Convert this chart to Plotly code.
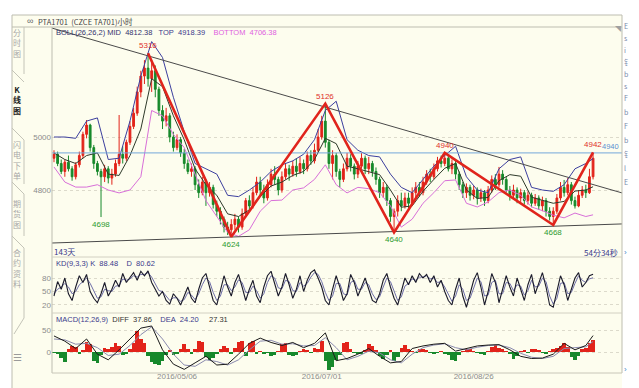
import plotly.graph_objects as go

W, H = 639, 388
def PX(p): return p / W
def PY(p): return 1 - p / H

# ---------------- data ----------------
idx = list(range(150))
opens = [4920,4935,4900,4870,4905,4880,4850,4895,4930,5010,
         5045,4960,4900,4870,4850,4880,4845,4860,4900,4935,
         4920,4980,5040,5090,5170,5230,5260,5220,5250,5180,
         5100,5060,5080,5000,4960,4990,4940,4900,4870,4880,
         4820,4790,4830,4790,4810,4745,4720,4690,4660,4650,
         4670,4690,4660,4710,4760,4740,4790,4830,4800,4770,
         4820,4860,4840,4800,4850,4880,4860,4890,4870,4900,
         4880,4930,4910,4950,5000,5060,4980,4900,4930,4870,
         4840,4880,4920,4890,4860,4890,4920,4880,4900,4870,
         4840,4790,4810,4760,4700,4720,4760,4740,4770,4750,
         4790,4810,4790,4830,4860,4850,4880,4910,4900,4920,
         4880,4900,4860,4820,4790,4810,4780,4800,4770,4790,
         4760,4800,4840,4820,4860,4840,4800,4780,4800,4770,
         4790,4760,4780,4750,4770,4740,4760,4720,4700,4720,
         4770,4810,4790,4820,4760,4740,4780,4800,4790,4850]
highs = [4950,4945,4915,4915,4930,4890,4905,4945,5020,5064,
         5050,4970,4910,4880,4895,4890,4880,4915,5083,4965,
         4990,5060,5110,5190,5250,5290,5316,5290,5270,5190,
         5120,5110,5090,5020,5010,5000,4955,4915,4900,4890,
         4840,4850,4840,4830,4820,4760,4735,4700,4680,4690,
         4710,4700,4730,4770,4780,4810,4850,4850,4820,4840,
         4880,4890,4850,4870,4900,4895,4910,4920,4925,4915,
         4945,4950,4975,5030,5080,5126,4990,4950,4940,4880,
         4900,4940,4935,4900,4910,4940,4930,4925,4910,4885,
         4850,4830,4820,4770,4730,4780,4790,4790,4790,4810,
         4830,4830,4850,4875,4880,4900,4925,4930,4940,4930,
         4915,4910,4870,4830,4825,4820,4815,4810,4805,4800,
         4815,4855,4860,4887,4875,4850,4815,4820,4810,4805,
         4800,4795,4790,4785,4780,4775,4770,4735,4735,4785,
         4830,4838,4845,4830,4775,4800,4815,4820,4880,4942]
lows = [4905,4890,4860,4850,4870,4835,4840,4885,4920,4995,
        4945,4880,4855,4698,4830,4825,4820,4850,4890,4900,
        4910,4970,5030,5080,5150,5200,5190,5170,5150,5080,
        5030,5040,4980,4945,4950,4925,4880,4860,4850,4800,
        4770,4780,4740,4775,4730,4700,4670,4640,4630,4624,
        4650,4640,4650,4700,4720,4730,4780,4780,4750,4760,
        4810,4820,4780,4790,4840,4835,4850,4850,4860,4860,
        4870,4895,4900,4940,4990,4960,4880,4840,4850,4810,
        4830,4870,4870,4840,4845,4880,4860,4860,4850,4820,
        4770,4770,4740,4680,4640,4700,4720,4730,4730,4740,
        4770,4775,4780,4820,4830,4840,4870,4885,4890,4870,
        4860,4840,4800,4770,4770,4760,4765,4745,4755,4740,
        4750,4790,4800,4810,4820,4790,4760,4765,4750,4755,
        4745,4745,4735,4740,4725,4720,4700,4685,4668,4710,
        4760,4775,4780,4745,4730,4735,4770,4770,4785,4840]
closes = [4935,4900,4870,4905,4880,4850,4895,4930,5010,5045,
          4960,4900,4870,4850,4880,4845,4860,4900,4935,4920,
          4980,5040,5090,5170,5230,5260,5220,5250,5180,5100,
          5060,5080,5000,4960,4990,4940,4900,4870,4880,4820,
          4790,4830,4790,4810,4745,4720,4690,4660,4650,4670,
          4690,4660,4710,4760,4740,4790,4830,4800,4770,4820,
          4860,4840,4800,4850,4880,4860,4890,4870,4900,4880,
          4930,4910,4950,5000,5060,4980,4900,4930,4870,4840,
          4880,4920,4890,4860,4890,4920,4880,4900,4870,4840,
          4790,4810,4760,4700,4720,4760,4740,4770,4750,4790,
          4810,4790,4830,4860,4850,4880,4910,4900,4920,4880,
          4900,4860,4820,4790,4810,4780,4800,4770,4790,4760,
          4800,4840,4820,4860,4840,4800,4780,4800,4770,4790,
          4760,4780,4750,4770,4740,4760,4720,4700,4720,4770,
          4810,4790,4820,4760,4740,4780,4800,4790,4850,4920]

band_idx = [0,3,6,9,12,15,18,21,24,27,30,33,36,39,42,45,48,51,54,57,60,63,66,69,72,
            75,78,81,84,87,90,93,96,99,102,105,108,111,114,117,120,123,126,129,132,
            135,138,141,144,147,149]
boll_top = [5000,5000,4995,5060,5072,4915,4920,5060,5230,5360,5300,5150,5020,4900,4880,
            4860,4780,4775,4800,4830,4870,4895,4910,4935,4990,5100,5135,4990,4950,4930,
            4925,4860,4810,4790,4840,4890,4930,4965,4850,4800,4790,4880,4915,4925,4810,
            4800,4795,4820,4880,4900,4918.39]
boll_mid = [4940,4915,4900,4930,4940,4860,4855,4930,5030,5220,5190,5080,4990,4880,4820,
            4780,4710,4700,4725,4775,4815,4830,4855,4870,4915,4995,4975,4890,4880,4868,
            4858,4800,4735,4740,4795,4840,4882,4900,4800,4768,4772,4835,4858,4852,4773,
            4761,4750,4757,4796,4800,4812.38]
boll_bot = [4887,4830,4811,4811,4820,4800,4789,4800,4850,5100,5080,5010,4960,4860,4760,
            4700,4640,4625,4650,4720,4760,4762,4800,4808,4840,4895,4820,4789,4810,4805,
            4790,4740,4660,4690,4750,4790,4835,4838,4750,4736,4755,4790,4800,4780,4736,
            4722,4705,4695,4713,4700,4706.38]

zz_idx = [26, 49, 75, 94, 108, 138, 149]
zz_val = [5316, 4624, 5126, 4640, 4940, 4668, 4942]

peak_idx = [26, 75, 108, 149]
peak_val = [5316, 5126, 4940, 4942]
trough_idx = [13, 49, 94, 138]
trough_val = [4698, 4624, 4640, 4668]

trend_x = [-0.55, 157.0]
trend_upper = [5411, 4789]
trend_lower = [4600, 4672]
level_line = 4940

kd_k = [40,72,55,80,45,30,60,85,70,88,
        50,35,25,45,70,40,55,75,60,90,
        70,80,92,75,95,85,96,70,55,40,
        50,30,22,45,35,20,40,60,35,25,
        55,80,90,60,30,20,50,85,60,40,
        70,88,60,30,55,75,40,25,60,85,
        95,70,40,60,90,65,35,55,85,50,
        75,92,98,80,60,30,20,55,85,60,
        30,45,88,70,40,60,80,55,30,25,
        45,75,90,60,35,20,50,80,65,85,
        70,90,80,88,70,85,60,75,50,30,
        20,55,80,40,15,45,75,92,60,20,
        50,90,70,25,55,85,60,40,80,55,
        30,65,88,45,70,92,60,20,15,50,
        85,65,30,55,80,92,60,70,85,88.48]
kd_d = [45,55,60,68,60,45,50,65,72,80,
        68,50,35,38,55,52,50,62,63,78,
        75,78,85,82,88,88,92,82,68,52,
        50,40,30,36,36,28,32,48,42,32,
        45,65,80,72,48,30,40,65,65,52,
        60,76,70,48,48,62,52,35,45,70,
        85,80,58,56,75,72,52,50,70,62,
        68,82,92,88,72,48,30,40,68,68,
        45,42,70,75,55,55,70,65,45,32,
        38,60,80,72,50,30,38,62,68,78,
        75,82,82,85,78,80,70,72,60,42,
        28,40,65,55,30,35,58,80,72,40,
        42,70,75,45,45,70,68,52,65,62,
        42,52,75,60,62,80,72,40,22,35,
        68,70,45,48,68,85,75,70,78,80.62]

macd_diff = [37,25,8,30,-5,-18,5,30,55,60,5,-28,-40,-25,-10,-30,-28,-5,20,32,22,15,22,10,20,
             44,-20,-15,-5,8,-10,-25,-22,8,14,18,20,2,8,14,16,17,5,-10,-15,-14,-5,20,5,15,37.86]
macd_dea = [30,28,18,20,10,-8,-5,15,40,58,30,-5,-30,-33,-18,-22,-30,-18,5,25,27,18,19,14,15,
            33,10,-18,-10,2,-2,-18,-25,-5,10,16,19,10,5,11,15,16,10,-3,-12,-15,-10,8,10,12,24.2]
macd_hist = [-2,-4,-14,-22,6,14,12,-4,4,22,
             18,-20,-25,-8,10,6,12,20,14,-8,
             -4,8,20,48,30,20,-10,-22,-28,-30,
             -20,-8,4,-6,-3,8,18,6,-3,6,
             26,22,-12,-18,-14,-4,8,14,10,-4,
             10,24,26,-10,20,25,-3,2,-4,-2,
             -10,-8,2,18,20,-6,-10,-8,2,6,
             3,-2,10,6,25,-20,-42,-35,-18,-6,
             20,22,8,-2,-5,-3,4,18,14,3,
             -10,-15,-8,5,-20,-12,10,15,8,2,
             -2,6,8,4,-2,-5,-2,2,-3,-6,
             -18,-20,-8,2,8,6,2,-2,-3,-6,
             2,12,16,10,6,2,-4,-15,-10,2,
             5,-2,6,8,4,-2,-3,2,8,10,
             14,20,12,-12,-18,-10,8,10,20,27.31]

date_idx = [34, 74, 116]
date_labels = ["2016/05/06", "2016/07/01", "2016/08/26"]

# ---------------- styles ----------------
CREAM = "#FDFDEE"
FRAME = "#BDBDB0"
NAVY = "#3A3A8C"
RED = "#E2231A"
GREEN = "#17892B"
FONT = "Liberation Sans, Arial, Noto Sans CJK SC, sans-serif"
CJK = "Noto Sans CJK SC, sans-serif"

fig = go.Figure()

fig.add_trace(go.Candlestick(
    x=idx, open=opens, high=highs, low=lows, close=closes,
    increasing=dict(line=dict(color=RED, width=1), fillcolor=RED),
    decreasing=dict(line=dict(color=GREEN, width=1), fillcolor=GREEN),
    whiskerwidth=0, xaxis="x", yaxis="y", showlegend=False))

fig.add_trace(go.Scatter(x=band_idx, y=boll_top, mode="lines",
                         line=dict(color="#3C3F9E", width=1), xaxis="x", yaxis="y", showlegend=False))
fig.add_trace(go.Scatter(x=band_idx, y=boll_mid, mode="lines",
                         line=dict(color="#2E3A2A", width=1), xaxis="x", yaxis="y", showlegend=False))
fig.add_trace(go.Scatter(x=band_idx, y=boll_bot, mode="lines",
                         line=dict(color="#D86FD8", width=1), xaxis="x", yaxis="y", showlegend=False))

fig.add_trace(go.Scatter(x=trend_x, y=[level_line, level_line], mode="lines",
                         line=dict(color="#74A7DA", width=1), xaxis="x", yaxis="y", showlegend=False))
fig.add_trace(go.Scatter(x=trend_x, y=trend_upper, mode="lines",
                         line=dict(color="#4A4A4A", width=1), xaxis="x", yaxis="y", showlegend=False))
fig.add_trace(go.Scatter(x=trend_x, y=trend_lower, mode="lines",
                         line=dict(color="#4A4A4A", width=1), xaxis="x", yaxis="y", showlegend=False))
fig.add_trace(go.Scatter(x=zz_idx, y=zz_val, mode="lines",
                         line=dict(color="#E0241C", width=2.6), xaxis="x", yaxis="y", showlegend=False))

# KD
fig.add_trace(go.Scatter(x=idx, y=kd_d, mode="lines",
                         line=dict(color="#6E6EA8", width=1), xaxis="x2", yaxis="y2", showlegend=False))
fig.add_trace(go.Scatter(x=idx, y=kd_k, mode="lines",
                         line=dict(color="#1A1A2A", width=1.1), xaxis="x2", yaxis="y2", showlegend=False))

# MACD
fig.add_trace(go.Bar(x=idx, y=macd_hist, width=1,
                     marker=dict(color=[RED if v >= 0 else GREEN for v in macd_hist], line=dict(width=0)),
                     xaxis="x3", yaxis="y3", showlegend=False))
fig.add_trace(go.Scatter(x=band_idx, y=macd_dea, mode="lines",
                         line=dict(color="#8A8AAE", width=1), xaxis="x3", yaxis="y3", showlegend=False))
fig.add_trace(go.Scatter(x=band_idx, y=macd_diff, mode="lines",
                         line=dict(color="#1A1A1A", width=1), xaxis="x3", yaxis="y3", showlegend=False))

xdom = [PX(52), PX(622)]
xr = [-0.55, 157.0]
axis_common = dict(domain=xdom, range=xr, showgrid=False, zeroline=False, showline=False,
                   fixedrange=True)
ytick = dict(size=8, color="#8C8C8C", family=FONT)
grid = dict(showgrid=True, gridcolor="#DCDACB", griddash="dot", gridwidth=1, zeroline=False,
            showline=False, ticks="", tickfont=ytick, fixedrange=True)

fig.update_layout(
    width=W, height=H, margin=dict(l=0, r=0, t=0, b=0),
    paper_bgcolor="white", plot_bgcolor="rgba(0,0,0,0)",
    bargap=0, showlegend=False, font=dict(family=FONT),
    xaxis=dict(anchor="y", showticklabels=False, rangeslider=dict(visible=False), **axis_common),
    xaxis2=dict(anchor="y2", matches="x", showticklabels=False, **axis_common),
    xaxis3=dict(anchor="y3", matches="x", tickvals=date_idx, ticktext=date_labels, ticks="",
                ticklabelstandoff=-3,
                tickfont=dict(size=8, color="#8C8C8C", family=FONT), **axis_common),
    yaxis=dict(domain=[PY(257), PY(27)], range=[4547.2, 5415.1], tickvals=[4800, 5000], **grid),
    yaxis2=dict(domain=[PY(313), PY(257)], range=[2.2, 126.7], tickvals=[20, 50, 80], **grid),
    yaxis3=dict(domain=[PY(373), PY(313)], range=[-48.4, 89.9], tickvals=[0, 50], **grid),
)

shapes = []
shapes.append(dict(type="rect", xref="paper", yref="paper", x0=PX(12), x1=PX(622), y0=0, y1=PY(15),
                   fillcolor=CREAM, line=dict(width=0), layer="below"))
def hline(y, x0, x1, color=FRAME):
    shapes.append(dict(type="line", xref="paper", yref="paper", x0=PX(x0), x1=PX(x1), y0=PY(y), y1=PY(y),
                       line=dict(color=color, width=1), layer="above"))
def vline(x, y0, y1, color=FRAME):
    shapes.append(dict(type="line", xref="paper", yref="paper", x0=PX(x), x1=PX(x), y0=PY(y0), y1=PY(y1),
                       line=dict(color=color, width=1), layer="above"))
def seg(x0, y0, x1, y1, color="#C4C4B8"):
    shapes.append(dict(type="line", xref="paper", yref="paper", x0=PX(x0), x1=PX(x1), y0=PY(y0), y1=PY(y1),
                       line=dict(color=color, width=1), layer="above"))
hline(15, 12, 622)
hline(27, 12, 622)
vline(12, 15, 388)
vline(52, 27, 373)
vline(622, 15, 373)
hline(257, 52, 622, "#D2D0C2")
hline(313, 52, 622, "#D2D0C2")
hline(373, 52, 622, "#C8C6B8")
# sidebar tabs
vline(24, 27, 74, "#C4C4B8"); seg(12, 70, 24, 82)
seg(12, 128, 24, 140); vline(24, 140, 184, "#C4C4B8"); seg(12, 182, 24, 194)
vline(24, 194, 236, "#C4C4B8"); seg(12, 236, 24, 248)
vline(24, 248, 318, "#C4C4B8"); seg(24, 318, 14, 334)
fig.update_layout(shapes=shapes)

ann = []
def txt(x, y, s, color, size=7.5, xa="left", ya="middle", fam=FONT):
    ann.append(dict(xref="paper", yref="paper", x=PX(x), y=PY(y), text=s, showarrow=False,
                    xanchor=xa, yanchor=ya, font=dict(size=size, color=color, family=fam),
                    borderpad=0))

S = "&nbsp;"
def span(s, c):
    return "<span style='color:%s'>%s</span>" % (c, s)

txt(26, 21, "∞", "#666", size=9)
txt(37, 21, "PTA1701  (CZCE TA701)小时", "#444", size=7.5, fam=CJK)

txt(55, 32, span("BOLL(26,26,2)" + S + "MID" + S*2 + "4812.38", "#33336E") + S*3 +
    span("TOP" + S*2 + "4918.39", NAVY) + S*4 + span("BOTTOM" + S*2 + "4706.38", "#E05FE0"),
    "#33336E")

txt(53, 251, "143天", NAVY, size=8, fam=CJK)
txt(619, 252, "54分34秒", NAVY, size=8, xa="right", fam=CJK)
txt(623, 252, "›", "#4A86C8", size=8)
txt(623, 369, "›", "#4A86C8", size=8)

txt(55, 263, "KD(9,3,3)" + S + "K" + S*2 + "88.48" + S*4 + "D" + S*2 + "80.62", NAVY)
txt(55, 319, span("MACD(12,26,9)", NAVY) + S*2 + span("DIFF" + S*2 + "37.86", "#333") + S*4 +
    span("DEA" + S*2 + "24.20", NAVY) + S*5 + span("27.31", "#333"), NAVY)

# sidebar labels
txt(17, 43, "分<br>时<br>图", "#A8A8A8", size=8, xa="center", fam=CJK)
txt(17, 100, "<b>K</b><br><b>线</b><br><b>图</b>", "#222", size=8, xa="center", fam=CJK)
txt(17, 160, "闪<br>电<br>下<br>单", "#A8A8A8", size=8, xa="center", fam=CJK)
txt(17, 214, "期<br>货<br>图", "#A8A8A8", size=8, xa="center", fam=CJK)
txt(17, 268, "合<br>约<br>资<br>料", "#A8A8A8", size=8, xa="center", fam=CJK)
txt(17, 357, "☰", "#9A9A9A", size=10, xa="center")
txt(618, 29, "◥", "#A0A0A0", size=6, xa="center")

# right panel glyph fragments
for yy, s in zip([26, 38, 50, 62, 74, 86, 98, 112, 126, 140, 154, 168, 182],
                 ["E", "s", "i", "钅", "b", "s", "F", "b", "F", "b", "钅", "l", "E"]):
    txt(623, yy, s, "#7A8AA8", size=7, fam=CJK)

for i, v in zip(peak_idx, peak_val):
    ann.append(dict(x=i, y=v, xref="x", yref="y", text=str(v), showarrow=False, xanchor="center",
                    yanchor="bottom", yshift=1, font=dict(size=8, color="#E0302A", family=FONT)))
for i, v in zip(trough_idx, trough_val):
    ann.append(dict(x=i, y=v, xref="x", yref="y", text=str(v), showarrow=False, xanchor="center",
                    yanchor="top", yshift=-1, font=dict(size=8, color="#2E9A2E", family=FONT)))
ann.append(dict(x=156.8, y=level_line, xref="x", yref="y", text=str(level_line), showarrow=False,
                xanchor="right", yanchor="bottom", font=dict(size=7.5, color="#5B8FD0", family=FONT)))

fig.update_layout(annotations=ann)
fig.write_html("out.html", config={"displayModeBar": False},
               post_script="document.body.style.margin='0';document.body.style.padding='0';"
                           "document.body.style.overflow='hidden';")
